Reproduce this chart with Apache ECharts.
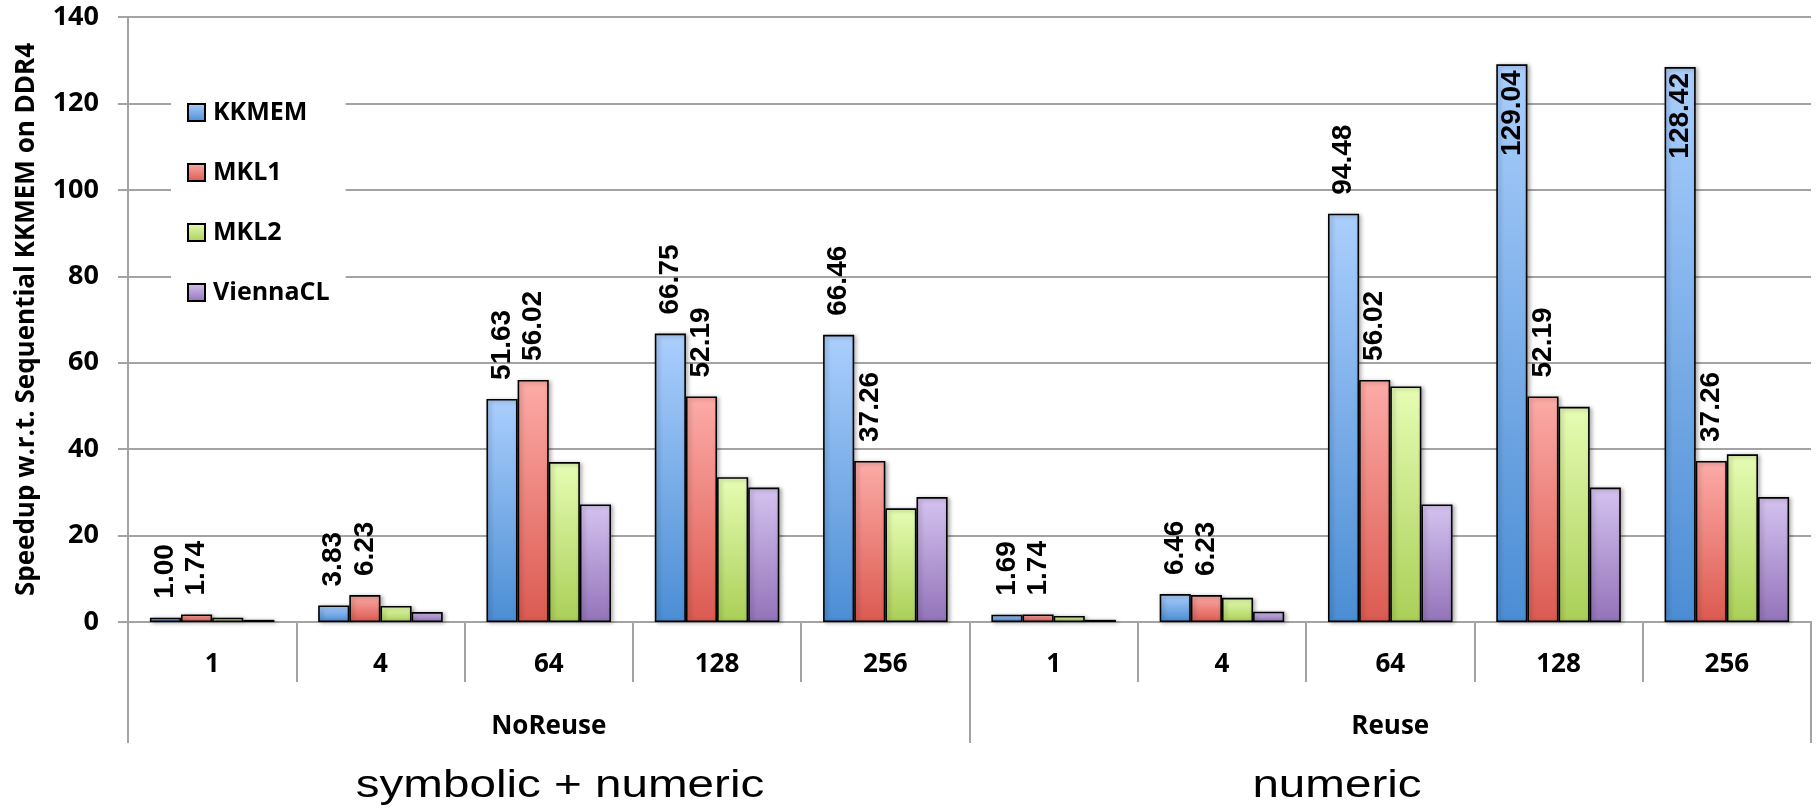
<!DOCTYPE html>
<html>
<head>
<meta charset="utf-8">
<script src="https://cdn.jsdelivr.net/npm/echarts@6/dist/echarts.min.js"></script>
<style>
html,body{margin:0;padding:0;background:#fff;}
#chart{width:1816px;height:810px;}
</style>
</head>
<body>
<div id="chart"></div>
<script>
// ---- data ----
const categories = ['1', '4', '64', '128', '256', '1', '4', '64', '128', '256'];
const groups = ['NoReuse', 'Reuse'];
const groupTitles = ['symbolic + numeric', 'numeric'];
const seriesNames = ['KKMEM', 'MKL1', 'MKL2', 'ViennaCL'];
const kkmem = [1.00, 3.83, 51.63, 66.75, 66.46, 1.69, 6.46, 94.48, 129.04, 128.42];
const mkl1 = [1.74, 6.23, 56.02, 52.19, 37.26, 1.74, 6.23, 56.02, 52.19, 37.26];
const mkl2 = [1.0, 3.7, 37.0, 33.5, 26.3, 1.4, 5.6, 54.5, 49.8, 38.8];
const viennacl = [0.5, 2.3, 27.2, 31.1, 28.9, 0.5, 2.4, 27.2, 31.1, 28.9];
const yTicks = { min: 0, max: 140, interval: 20 };
const yTitle = 'Speedup w.r.t. Sequential KKMEM on DDR4';

// ---- style ----
const gradients = [
  ['#abcffd', '#4b8dd4'],
  ['#fdaba7', '#db5a50'],
  ['#e6fdb4', '#aacf57'],
  ['#d5c3f0', '#9373b9']
];
const grayLine = '#a3a3a3';
const titleX = [560, 1337];

function grad(c) {
  return new echarts.graphic.LinearGradient(0, 0, 0, 1, [
    { offset: 0, color: c[0] },
    { offset: 1, color: c[1] }
  ]);
}

const labelBase = {
  show: true,
  position: 'top',
  rotate: 90,
  align: 'left',
  verticalAlign: 'middle',
  distance: 19,
  fontFamily: 'Liberation Sans',
  fontWeight: 'bold',
  fontSize: 28,
  color: '#000',
  formatter: p => Number(p.value).toFixed(2)
};

function withLabels(arr, axisMax) {
  return arr.map(v => {
    if (v > axisMax - 20) {
      return { value: v, label: { position: 'insideTop', align: 'right', distance: 6 } };
    }
    return v;
  });
}

const dataSets = [kkmem, mkl1, mkl2, viennacl];
const series = seriesNames.map((name, i) => ({
  name: name,
  type: 'bar',
  xAxisIndex: 0,
  barGap: '0%',
  barCategoryGap: '26%',
  data: i < 2 ? withLabels(dataSets[i], yTicks.max) : dataSets[i],
  label: i < 2 ? labelBase : { show: false },
  itemStyle: {
    color: grad(gradients[i]),
    borderColor: '#000',
    borderWidth: 1.6,
    shadowColor: 'rgba(0,0,0,0.3)',
    shadowBlur: 4,
    shadowOffsetX: 2,
    shadowOffsetY: 1
  },
  emphasis: { disabled: true },
  animation: false
}));

const chart = echarts.init(document.getElementById('chart'), null, { renderer: 'canvas' });

const gridLeft = 128, gridRight = 5, gridBottom = 188;

chart.setOption({
  animation: false,
  backgroundColor: '#fff',
  grid: { left: gridLeft, right: gridRight, top: 17, bottom: gridBottom, containLabel: false },
  legend: {
    orient: 'vertical',
    left: 171,
    top: 80,
    padding: [20, 16, 20, 16],
    backgroundColor: '#fff',
    itemWidth: 17,
    itemHeight: 17,
    itemGap: 35,
    icon: 'rect',
    textStyle: {
      fontFamily: 'Open Sans',
      fontWeight: 'bold',
      fontSize: 25,
      lineHeight: 25,
      color: '#000',
      padding: [0, 0, 0, 3]
    },
    data: seriesNames
  },
  xAxis: [
    {
      type: 'category',
      data: categories,
      position: 'bottom',
      axisLine: { show: true, lineStyle: { color: grayLine, width: 2 } },
      axisTick: { show: true, interval: 0, length: 60, lineStyle: { color: grayLine, width: 2 } },
      axisLabel: {
        interval: 0,
        margin: 30,
        fontFamily: 'Open Sans',
        fontWeight: 'bold',
        fontSize: 26,
        lineHeight: 26,
        color: '#000'
      },
      splitLine: { show: false }
    },
    {
      type: 'category',
      data: groups,
      position: 'bottom',
      axisLine: { show: true, lineStyle: { color: grayLine, width: 2 } },
      axisTick: { show: true, interval: 0, length: 121, lineStyle: { color: grayLine, width: 2 } },
      axisLabel: {
        interval: 0,
        margin: 92,
        fontFamily: 'Open Sans',
        fontWeight: 'bold',
        fontSize: 26,
        lineHeight: 26,
        color: '#000'
      },
      splitLine: { show: false }
    }
  ],
  yAxis: {
    type: 'value',
    min: yTicks.min,
    max: yTicks.max,
    interval: yTicks.interval,
    name: yTitle,
    nameLocation: 'middle',
    nameRotate: 90,
    nameGap: 88,
    nameTextStyle: {
      fontFamily: 'Open Sans',
      fontWeight: 'bold',
      fontSize: 26,
      color: '#000'
    },
    axisLine: { show: true, lineStyle: { color: grayLine, width: 2 } },
    axisTick: { show: true, length: 10, lineStyle: { color: grayLine, width: 2 } },
    axisLabel: {
      margin: 29,
      fontFamily: 'Open Sans',
      fontWeight: 'bold',
      fontSize: 27,
      color: '#000'
    },
    splitLine: { show: true, lineStyle: { color: grayLine, width: 2 } }
  },
  graphic: groupTitles.map((t, i) => ({
    type: 'text',
    x: titleX[i],
    y: 786,
    scaleX: 1.22,
    style: {
      text: t,
      fontFamily: 'Liberation Sans',
      fontSize: 39,
      fill: '#000',
      align: 'center',
      verticalAlign: 'middle'
    }
  })),
  series: series
});
</script>
</body>
</html>
